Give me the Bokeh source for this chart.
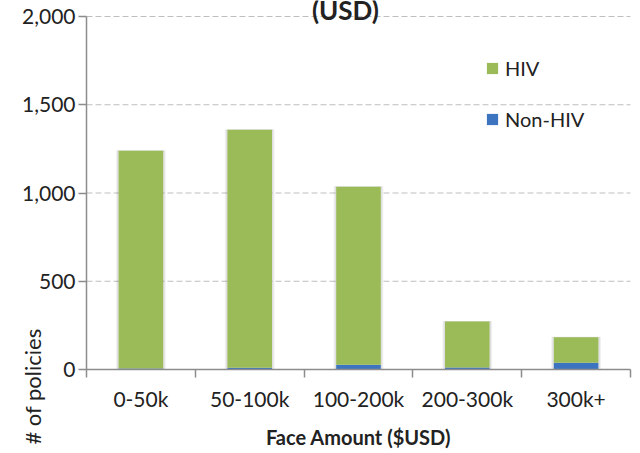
from bokeh.plotting import figure
from bokeh.models import (ColumnDataSource, FixedTicker, NumeralTickFormatter,
                          Legend, LegendItem, Label, Range1d)
from bokeh.embed import file_html
from bokeh.resources import INLINE
import math

categories = ["0-50k", "50-100k", "100-200k", "200-300k", "300k+"]
non_hiv = [6, 10, 27, 11, 38]
hiv = [1234, 1348, 1009, 261, 145]
y_ticks = [0, 500, 1000, 1500, 2000]

xpos = list(range(len(categories)))
total = [a + b for a, b in zip(non_hiv, hiv)]
src = ColumnDataSource(dict(x=xpos, non_hiv=non_hiv, hiv=hiv, total=total))

FONT = "Lato"
GREEN = "#9BBB59"
BLUE = "#3D74BF"
AXIS = "#8C8C8C"

X0, X1 = -0.5, len(categories) - 0.5
Y0, Y1 = 0, 2000

p = figure(width=640, height=453, output_backend="svg", toolbar_location=None,
           x_range=Range1d(-1.2904, 4.5919), y_range=Range1d(-475.9, 2090.7),
           min_border=0)
p.outline_line_color = None
p.background_fill_color = "white"

# dashed horizontal gridlines limited to the plot area
grid_y = y_ticks[1:]
p.segment(x0=[X0] * len(grid_y), x1=[X1] * len(grid_y), y0=grid_y, y1=grid_y,
          line_color="#BFBFBF", line_dash="6 3", line_width=1.2)

# subtle shadows
p.vbar(x="x", top="total", bottom=0, width=0.45, source=src, color="#000000", alpha=0.04)
p.vbar(x="x", top="total", bottom=0, width=0.43, source=src, color="#000000", alpha=0.06)

r = p.vbar_stack(["non_hiv", "hiv"], x="x", width=0.41, source=src,
                 color=[BLUE, GREEN], line_color=None)

legend = Legend(items=[LegendItem(label="HIV", renderers=[r[1]]),
                       LegendItem(label="Non-HIV", renderers=[r[0]])],
                location=(485, 322), orientation="vertical")
legend.background_fill_alpha = 0
legend.border_line_alpha = 0
legend.glyph_width = 14
legend.glyph_height = 14
legend.label_height = 20
legend.spacing = 27
legend.label_standoff = 6
legend.padding = 0
legend.margin = 0
legend.label_text_font = FONT
legend.label_text_font_size = "20px"
legend.label_text_color = "#222222"
p.add_layout(legend)

p.xgrid.visible = False
p.ygrid.visible = False

# y axis
p.yaxis.fixed_location = X0
p.yaxis.bounds = (Y0, Y1)
p.yaxis.ticker = FixedTicker(ticks=y_ticks)
p.yaxis.formatter = NumeralTickFormatter(format="0,0")
p.yaxis.axis_line_color = AXIS
p.yaxis.axis_line_width = 1.5
p.yaxis.major_tick_line_color = AXIS
p.yaxis.major_tick_line_width = 1.5
p.yaxis.major_tick_out = 8
p.yaxis.major_tick_in = 0
p.yaxis.minor_tick_line_color = None
p.yaxis.major_label_standoff = 3
p.yaxis.major_label_text_font = FONT
p.yaxis.major_label_text_font_size = "21px"
p.yaxis.major_label_text_color = "#222222"

# x axis
p.xaxis.fixed_location = Y0
p.xaxis.bounds = (X0, X1)
p.xaxis.ticker = FixedTicker(ticks=xpos, minor_ticks=[i - 0.5 for i in range(len(categories) + 1)])
p.xaxis.major_label_overrides = {i: c for i, c in enumerate(categories)}
p.xaxis.axis_line_color = AXIS
p.xaxis.axis_line_width = 1.5
p.xaxis.major_tick_line_color = None
p.xaxis.major_tick_out = 0
p.xaxis.major_tick_in = 0
p.xaxis.minor_tick_line_color = AXIS
p.xaxis.minor_tick_line_width = 1.5
p.xaxis.minor_tick_out = 8
p.xaxis.minor_tick_in = 0
p.xaxis.major_label_standoff = 8
p.xaxis.major_label_text_font = FONT
p.xaxis.major_label_text_font_size = "21px"
p.xaxis.major_label_text_color = "#222222"
p.xaxis.axis_label = "Face Amount ($USD)"
p.xaxis.axis_label_text_font = FONT
p.xaxis.axis_label_text_font_style = "bold"
p.xaxis.axis_label_text_font_size = "20px"
p.xaxis.axis_label_text_color = "#222222"
p.xaxis.axis_label_standoff = 11

# y-axis title (placed low, as in the reference)
p.add_layout(Label(x=-1.0, y=-96, text="# of policies",
                   angle=math.pi / 2, text_align="center", text_baseline="middle",
                   text_font=FONT, text_font_size="22px", text_color="#222222"))

# chart title (partly cut off at the top)
p.add_layout(Label(x=1.88, y=2035, text="(USD)", text_align="center",
                   text_baseline="alphabetic", text_font=FONT,
                   text_font_style="bold", text_font_size="26px", text_color="#222222"))

open("out.html", "w").write(file_html(p, INLINE))
